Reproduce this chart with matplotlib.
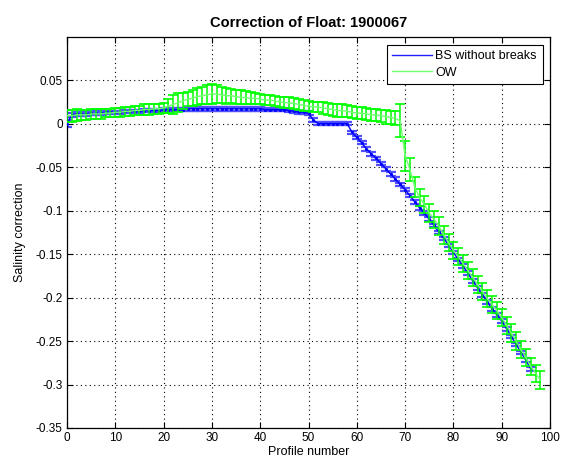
import matplotlib
matplotlib.use("Agg")
import matplotlib.pyplot as plt
import numpy as np

plt.rcParams['font.family'] = ['Liberation Sans', 'DejaVu Sans']
plt.rcParams['axes.unicode_minus'] = False

# ---- data ----
bs_profiles = list(range(0, 97))
bs_values = [
    0.000, 0.010, 0.011, 0.011, 0.011, 0.012, 0.012, 0.012, 0.013, 0.013,
    0.013, 0.013, 0.014, 0.014, 0.014, 0.014, 0.015, 0.015, 0.015, 0.015,
    0.016, 0.016, 0.016, 0.016, 0.016, 0.017, 0.017, 0.017, 0.017, 0.017,
    0.017, 0.017, 0.017, 0.017, 0.017, 0.017, 0.017, 0.017, 0.017, 0.017,
    0.017, 0.016, 0.016, 0.016, 0.016, 0.016, 0.015, 0.014, 0.013, 0.013,
    0.012, 0.004, 0.000, 0.000, 0.000, 0.000, 0.000, 0.000, 0.000, -0.010,
    -0.016, -0.022, -0.029, -0.035, -0.040, -0.046, -0.052, -0.058, -0.064, -0.070,
    -0.076, -0.083, -0.090, -0.097, -0.103, -0.110, -0.117, -0.125, -0.132, -0.140,
    -0.148, -0.156, -0.164, -0.172, -0.181, -0.189, -0.197, -0.205, -0.213, -0.220,
    -0.227, -0.236, -0.245, -0.254, -0.263, -0.272, -0.282,
]
bs_errors = [0.004] + [0.002] * 96

ow_profiles = list(range(0, 99))
ow_values = [
    0.009, 0.009, 0.010, 0.010, 0.010, 0.011, 0.011, 0.011, 0.012, 0.012,
    0.013, 0.013, 0.014, 0.014, 0.015, 0.015, 0.016, 0.016, 0.017, 0.017,
    0.018, 0.020, 0.022, 0.024, 0.026, 0.028, 0.029, 0.031, 0.032, 0.033,
    0.034, 0.034, 0.033, 0.032, 0.032, 0.031, 0.030, 0.030, 0.029, 0.029,
    0.028, 0.027, 0.027, 0.026, 0.025, 0.024, 0.024, 0.023, 0.022, 0.021,
    0.020, 0.019, 0.019, 0.018, 0.017, 0.016, 0.015, 0.015, 0.014, 0.013,
    0.012, 0.012, 0.011, 0.010, 0.010, 0.009, 0.008, 0.007, 0.006, 0.003,
    -0.037, -0.053, -0.073, -0.085, -0.093, -0.103, -0.110, -0.118, -0.128, -0.137,
    -0.146, -0.153, -0.161, -0.169, -0.177, -0.185, -0.193, -0.201, -0.208, -0.215,
    -0.223, -0.232, -0.241, -0.250, -0.260, -0.269, -0.279, -0.287, -0.295,
]
ow_errors = [
    0.007, 0.007, 0.007, 0.006, 0.006, 0.006, 0.006, 0.006, 0.005, 0.005,
    0.005, 0.005, 0.005, 0.005, 0.005, 0.005, 0.006, 0.006, 0.006, 0.006,
    0.006, 0.008, 0.011, 0.011, 0.009, 0.008, 0.009, 0.010, 0.010, 0.011,
    0.011, 0.010, 0.009, 0.009, 0.008, 0.008, 0.008, 0.007, 0.007, 0.006,
    0.006, 0.006, 0.006, 0.006, 0.006, 0.006, 0.006, 0.006, 0.006, 0.006,
    0.006, 0.006, 0.006, 0.007, 0.007, 0.007, 0.007, 0.007, 0.007, 0.007,
    0.007, 0.007, 0.007, 0.007, 0.007, 0.007, 0.008, 0.008, 0.008, 0.019,
    0.017, 0.013, 0.011, 0.010, 0.010, 0.010, 0.010, 0.010, 0.010, 0.010,
    0.010, 0.010, 0.010, 0.010, 0.010, 0.010, 0.010, 0.010, 0.010, 0.010,
    0.010, 0.010, 0.010, 0.010, 0.010, 0.010, 0.010, 0.010, 0.010,
]

x_ticks = [0, 10, 20, 30, 40, 50, 60, 70, 80, 90, 100]
y_ticks = [-0.35, -0.3, -0.25, -0.2, -0.15, -0.1, -0.05, 0, 0.05]
y_tick_labels = ['-0.35', '-0.3', '-0.25', '-0.2', '-0.15', '-0.1', '-0.05', '0', '0.05']

# ---- figure ----
fig = plt.figure(figsize=(5.63, 4.59), dpi=100)
ax = fig.add_axes([67/563, 1 - 428/459, (550 - 67)/563, (428 - 37)/459])

# BS without breaks
bs_eb = ax.errorbar(bs_profiles, bs_values, yerr=bs_errors, fmt='none',
                    ecolor='#5050ff', elinewidth=0.8, capsize=3.5, capthick=1.6,
                    zorder=2)
for cl in bs_eb[1]:
    cl.set_color('#8080ff')
ax.plot(bs_profiles, bs_values, color='#0000ff', lw=1.0, marker='.', ms=2.5,
        zorder=3)
ax.plot([], [], color='#2020ff', lw=1.0, label='BS without breaks')

# OW
ow_eb = ax.errorbar(ow_profiles, ow_values, yerr=ow_errors, fmt='none',
                    ecolor='#00ff00', elinewidth=1.1, capsize=3.5, capthick=1.2,
                    zorder=4)
for cl in ow_eb[1]:
    cl.set_color('#55ff55')
ax.plot(ow_profiles, ow_values, color='#70ff70', lw=1.0, label='OW', zorder=5)

ax.set_xlim(0, 100)
ax.set_ylim(-0.35, 0.0995)
ax.set_xticks(x_ticks)
ax.set_xticklabels([str(t) for t in x_ticks])
ax.set_yticks(y_ticks)
ax.set_yticklabels(y_tick_labels)
ax.tick_params(direction='in', length=4, width=0.8, labelsize=8.5,
               top=True, right=True, pad=3)
ax.grid(True, color='black', linestyle=(0, (1, 3)), linewidth=0.8)
for s in ax.spines.values():
    s.set_linewidth(0.9)

ax.set_title('Correction of Float: 1900067', fontsize=10.5, fontweight='bold', pad=7)
ax.set_xlabel('Profile number', fontsize=9, labelpad=1.5)
ax.set_ylabel('Salinity correction', fontsize=9, labelpad=7)

leg = ax.legend(loc='upper right', fontsize=9, fancybox=False, framealpha=1,
                edgecolor='black', borderaxespad=0.6, handlelength=3.2,
                handletextpad=0.25, borderpad=0.45, labelspacing=0.35)
leg.get_frame().set_linewidth(0.8)

fig.savefig('out.png', dpi=100)
